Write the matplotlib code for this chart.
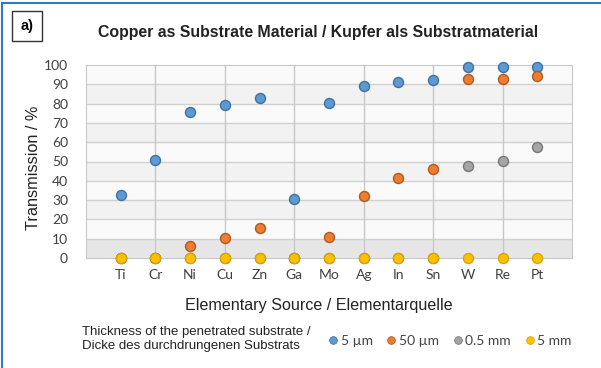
import matplotlib.pyplot as plt
import matplotlib.lines as mlines
import numpy as np

elements = ['Ti', 'Cr', 'Ni', 'Cu', 'Zn', 'Ga', 'Mo', 'Ag', 'In', 'Sn', 'W', 'Re', 'Pt']
t_5um = [32.5, 51, 75.5, 79.5, 82.7, 30.7, 80.5, 89.3, 91.2, 92.3, 99, 99, 99]
t_50um = [0, 0, 6.2, 10.4, 15.4, 0, 11, 32.1, 41.6, 46.1, 92.6, 92.6, 94.5]
t_05mm = [0, 0, 0, 0, 0, 0, 0, 0, 0, 0, 47.7, 50.4, 57.7]
t_5mm = [0, 0, 0, 0, 0, 0, 0, 0, 0, 0, 0, 0, 0]
series_labels = ['5 µm', '50 µm', '0.5 mm', '5 mm']
colors = ['#5b9bd5', '#ed7d31', '#a5a5a5', '#ffc000']
edges = ['#41719c', '#ae5a21', '#787878', '#d9a400']

fig = plt.figure(figsize=(6.01, 3.68), dpi=100)
ax = fig.add_axes([86 / 601, 1 - 258 / 368, 486 / 601, 193 / 368])

x = np.arange(len(elements))
ax.set_xlim(-1, len(elements))
ax.set_ylim(0, 100)

# alternating light bands like the original
for lo in range(0, 100, 10):
    shade = '#e6e6e6' if lo == 0 else ('#f2f2f2' if (lo // 10) % 2 == 0 else '#fafafa')
    ax.axhspan(lo, lo + 10, color=shade, zorder=0, lw=0)
for yv in range(10, 100, 10):
    ax.axhline(yv, color='#d0d0d0', lw=1.0, zorder=1)
for xi in x[1::2]:
    ax.axvline(xi, color='#c8c8c8', lw=1.0, zorder=1)

# the thickest substrate sits on top at zero
data = [t_5um, t_50um, t_05mm, t_5mm]
for vals, c, ec, lab, z in zip(data, colors, edges, series_labels, [3, 4, 5, 6]):
    ax.scatter(x, vals, s=52, color=c, edgecolors=ec, linewidths=1.0,
               zorder=z, clip_on=False, label=lab)

for s in ax.spines.values():
    s.set_color('#c8c8c8')
ax.tick_params(length=0)
ax.set_xticks(x)
ax.set_xticklabels(elements, fontsize=10, family='Lato', color='#404040')
ax.set_yticks(range(0, 101, 10))
ax.set_yticklabels([str(v) for v in range(0, 101, 10)], fontsize=10,
                   family='Lato', color='#404040')
ax.tick_params(axis='x', pad=8)
ax.tick_params(axis='y', pad=13)

ax.set_ylabel('Transmission / %', fontsize=11.7, family='Liberation Sans',
              color='#222222')
ax.yaxis.set_label_coords((41 - 86) / 486, 0.466)
ax.set_xlabel('Elementary Source / Elementarquelle', fontsize=11.6,
              family='Liberation Sans', color='#222222')
ax.xaxis.set_label_coords((319 - 86) / 486, -0.205)

fig.text(318 / 601, 1 - 32 / 368,
         'Copper as Substrate Material / Kupfer als Substratmaterial',
         ha='center', va='center', fontsize=11.4, fontweight='bold',
         family='Liberation Sans', color='#222222')
fig.text(27 / 601, 1 - 26 / 368, 'a)', ha='center', va='center', fontsize=10.5,
         fontweight='bold', family='Liberation Sans',
         bbox=dict(boxstyle='square,pad=0.55', fc='white', ec='#333333', lw=1.0))

fig.text(82 / 601, 1 - 339 / 368,
         'Thickness of the penetrated substrate /\nDicke des durchdrungenen Substrats',
         ha='left', va='center', fontsize=9.5, family='Liberation Sans',
         color='#222222', linespacing=1.15)

handles = [mlines.Line2D([], [], ls='', marker='o', ms=5.5, mfc=c, mec=ec, mew=0.6)
           for c, ec in zip(colors, edges)]
leg = fig.legend(handles, series_labels, loc='center left',
                 bbox_to_anchor=(317 / 601, 1 - 341 / 368), ncol=4, frameon=False,
                 handlelength=0.5, handletextpad=0.3, columnspacing=1.1,
                 prop={'family': 'Lato', 'size': 10})
for txt in leg.get_texts():
    txt.set_color('#444444')

# blue frame lines on top and left edges
fig.add_artist(mlines.Line2D([2 / 601, 1], [1 - 3 / 368, 1 - 3 / 368],
                             color='#2f7bbf', lw=1.5))
fig.add_artist(mlines.Line2D([2 / 601, 2 / 601], [0, 1 - 3 / 368],
                             color='#2f7bbf', lw=1.5))

fig.savefig('out.png', dpi=100)
